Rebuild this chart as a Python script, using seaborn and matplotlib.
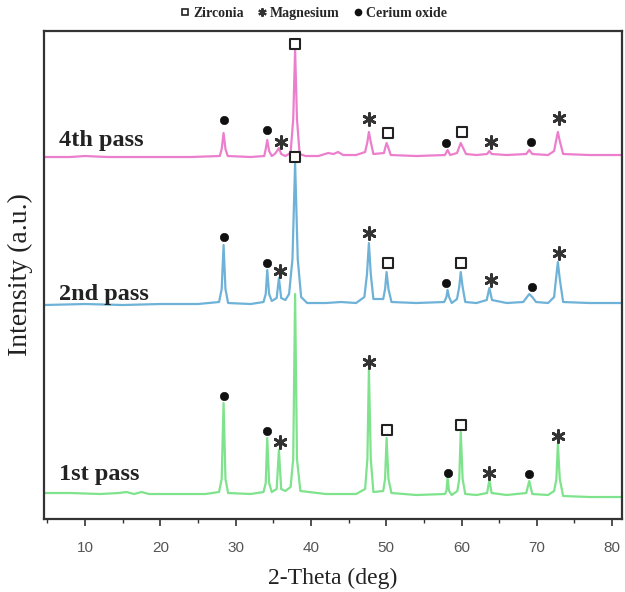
import numpy as np
import pandas as pd
import matplotlib
matplotlib.use("Agg")
import matplotlib.pyplot as plt
from matplotlib.lines import Line2D
from matplotlib.ticker import MultipleLocator
import seaborn as sns

# ---------------- data (2-theta, intensity incl. stacking offset) ----------------
pass1 = [(4.6,26),(8,26),(12,25),(14.5,26),(15.5,27),(16.5,25),(17.5,27),(18.5,25),(22,25),(26,25),
         (27.8,27),(28.15,40),(28.4,116),(28.65,40),(29.0,26),
         (32,25),(33.7,27),(34.0,36),(34.2,81),(34.45,36),(34.8,27),
         (35.45,30),(35.75,69),(36.05,30),(36.6,28),
         (37.3,32),(37.65,60),(37.9,225),(38.15,60),(38.6,28),
         (42,25),(46,25),(47.2,30),(47.5,60),(47.7,149),(47.95,60),(48.3,27),
         (49.6,28),(49.85,40),(50.05,81),(50.3,40),(50.7,26),
         (54,24),(57.8,25),(58.0,28),(58.15,41),(58.35,28),(58.7,24),
         (59.45,28),(59.7,40),(59.9,87),(60.15,40),(60.5,25),
         (62,24),(63.4,26),(63.7,39),(64.0,26),
         (66,24),(68.6,26),(69.0,38),(69.4,25),
         (71.5,24),(72.3,28),(72.6,40),(72.8,75),(73.05,40),(73.5,23),
         (77,22),(81.3,22)]

pass2 = [(4.6,214),(10,215),(15,214),(20,215),(25,215),
         (27.8,217),(28.15,230),(28.4,274),(28.65,230),(29.0,216),
         (32,215),(33.7,217),(34.0,225),(34.2,249),(34.45,225),(34.8,218),
         (35.45,221),(35.75,241),(36.05,221),(36.6,219),
         (37.1,225),(37.55,260),(37.9,356),(38.25,260),(38.7,222),(39.5,216),
         (42,216),(44,217),(46,216),(47.1,222),(47.45,245),(47.7,276),(47.95,245),(48.3,220),
         (49.6,220),(49.85,230),(50.05,247),(50.3,230),(50.7,217),
         (54,216),(57.7,217),(58.0,222),(58.15,229),(58.35,222),(58.7,216),
         (59.4,220),(59.7,232),(59.9,247),(60.15,232),(60.5,217),
         (62,216),(63.35,219),(63.7,231),(64.05,219),
         (66,216),(68.2,217),(68.7,222),(69.0,225),(69.4,222),(69.9,217),
         (71.5,216),(72.3,222),(72.55,240),(72.8,257),(73.05,240),(73.5,217),
         (77,216),(81.3,216)]

pass4 = [(4.6,362),(8,362),(10,363),(13,362),(18,362),(24,362),
         (27.9,363),(28.15,370),(28.4,386),(28.65,370),(28.95,363),
         (32,362),(33.8,363),(34.0,370),(34.2,379),(34.45,368),(34.8,363),(35.2,365),
         (35.5,368),(35.75,371),(36.05,365),(36.6,363),
         (37.3,366),(37.65,400),(37.9,469),(38.15,400),(38.5,365),(39.3,363),
         (41,363),(42.3,366),(43,365),(43.6,367),(44.3,364),(46,364),
         (47.2,367),(47.5,377),(47.7,387),(47.95,377),(48.3,365),
         (49.7,366),(49.9,372),(50.05,376),(50.25,372),(50.6,364),
         (54,363),(57.8,364),(58.15,369),(58.5,364),
         (59.4,366),(59.7,372),(59.9,376),(60.15,372),(60.6,365),
         (62,364),(63.4,365),(63.7,368),(64.0,365),
         (66,364),(68.6,365),(69.0,369),(69.4,365),
         (71.5,364),(72.3,368),(72.55,378),(72.8,387),(73.05,378),(73.5,365),
         (77,364),(81.3,364)]

zirconia_marks = [(37.9,475),(50.2,386),(60.1,387),
                  (37.9,362),(50.2,256),(59.9,256),
                  (50.1,89),(59.9,94)]
magnesium_marks = [(36.0,377),(47.7,400),(63.9,377),(73.0,401),
                   (35.9,248),(47.7,286),(63.9,239),(73.0,266),
                   (35.9,77),(47.7,157),(63.7,46),(72.8,83)]
cerium_marks = [(28.4,399),(34.2,389),(58.0,376),(69.2,377),
                (28.4,282),(34.2,256),(58.0,236),(69.3,232),
                (28.4,123),(34.2,88),(58.15,46),(69.0,45)]

pass_labels = ["1st pass", "2nd pass", "4th pass"]
label_y = [45, 225, 379]
legend_labels = ["Zirconia", "Magnesium", "Cerium oxide"]

# ---------------- plotting ----------------
sns.set_theme(style="white")
plt.rcParams['font.family'] = ['Liberation Serif', 'DejaVu Serif']

fig = plt.figure(figsize=(6.25, 5.92), dpi=100)
ax = fig.add_axes([0.0704, 0.1233, 0.9246, 0.8243])

colors = ["#7ee38c", "#6fb2d8", "#ec7fcd"]
for data, c in zip([pass1, pass2, pass4], colors):
    df = pd.DataFrame(data, columns=["tt", "I"])
    sns.lineplot(data=df, x="tt", y="I", ax=ax, color=c, lw=1.6,
                 estimator=None, sort=False)

def marks(lst):
    return pd.DataFrame(lst, columns=["tt", "I"])

sns.scatterplot(data=marks(zirconia_marks), x="tt", y="I", ax=ax, marker="s",
                s=45, facecolor="white", edgecolor="#222222", linewidth=1.5, zorder=5)
sns.scatterplot(data=marks(magnesium_marks), x="tt", y="I", ax=ax, marker=(6, 2, 0),
                s=75, color="#333333", linewidth=2.0, zorder=5)
sns.scatterplot(data=marks(cerium_marks), x="tt", y="I", ax=ax, marker="o",
                s=36, color="#111111", edgecolor="#111111", zorder=5)

for lab, yy in zip(pass_labels, label_y):
    ax.text(6.6, yy, lab, fontsize=17.5, fontweight="bold", color="#222222",
            va="center", ha="left")

ax.set_xlim(4.55, 81.3)
ax.set_ylim(0, 488)
ax.set_yticks([])
ax.xaxis.set_major_locator(MultipleLocator(10))
ax.xaxis.set_minor_locator(MultipleLocator(5))
ax.tick_params(axis="x", which="major", direction="out", length=5, width=1.2,
               color="#333333", labelsize=11, labelcolor="#555555", bottom=True, pad=11)
ax.tick_params(axis="x", which="minor", direction="out", length=3, width=1.0,
               color="#333333", bottom=True)
for t in ax.get_xticklabels():
    t.set_family(["Liberation Sans", "DejaVu Sans"])
for sp in ax.spines.values():
    sp.set_visible(True)
    sp.set_color("#333333")
    sp.set_linewidth(1.6)

ax.set_xlabel("2-Theta (deg)", fontsize=17, color="#222222", labelpad=9)
ax.set_ylabel("Intensity (a.u.)", fontsize=20, color="#222222", labelpad=8)

handles = [
    Line2D([], [], ls="none", marker="s", markersize=5, markerfacecolor="white",
           markeredgecolor="#222222", markeredgewidth=1.2),
    Line2D([], [], ls="none", marker=(6, 2, 0), markersize=6, color="#333333",
           markeredgewidth=1.5),
    Line2D([], [], ls="none", marker="o", markersize=4.5, color="#111111"),
]
fig.legend(handles, legend_labels, loc="center", bbox_to_anchor=(0.502, 0.978),
           ncol=3, frameon=False, handlelength=0.6, handletextpad=0.3,
           columnspacing=1.0, prop={"weight": "bold", "size": 10})

fig.savefig("out.png", dpi=100)
